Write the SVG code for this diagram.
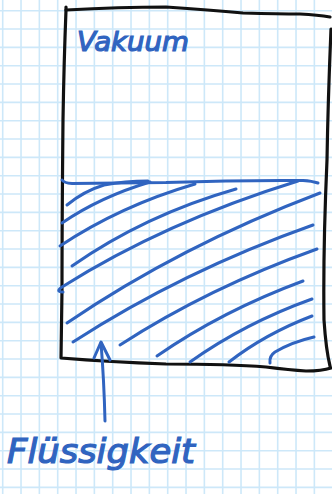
<svg xmlns="http://www.w3.org/2000/svg" width="332" height="494" viewBox="0 0 332 494">
<style>
.grid{fill:none;stroke:#cde8f9;stroke-width:1.6}
.box{fill:none;stroke:#111;stroke-width:3.2;stroke-linecap:round;stroke-linejoin:round}
.ink{fill:none;stroke:#3064c0;stroke-width:3;stroke-linecap:round;stroke-linejoin:round}
.hand{fill:#3064c0;stroke:#3064c0;stroke-width:1.2;font-family:"DejaVu Sans","Liberation Sans",sans-serif;font-style:italic}
</style>
<rect width="332" height="494" fill="#ffffff"/>
<path class="grid" d="M2.7,0V494M21.03,0V494M39.37,0V494M57.7,0V494M76.03,0V494M94.37,0V494M112.7,0V494M131.03,0V494M149.37,0V494M167.7,0V494M186.03,0V494M204.37,0V494M222.7,0V494M241.03,0V494M259.37,0V494M277.7,0V494M296.03,0V494M314.37,0V494M0,10.7H332M0,29.03H332M0,47.37H332M0,65.7H332M0,84.03H332M0,102.37H332M0,120.7H332M0,139.03H332M0,157.37H332M0,175.7H332M0,194.03H332M0,212.37H332M0,230.7H332M0,249.03H332M0,267.37H332M0,285.7H332M0,304.03H332M0,322.37H332M0,340.7H332M0,359.03H332M0,377.37H332M0,395.7H332M0,414.03H332M0,432.37H332M0,450.7H332M0,469.03H332M0,487.37H332"/>
<g id="container">
<path class="box" d="M66,7 L66,10 Q64,60 63,120 Q62,220 62,290 L61,358 Q110,362 166,364 Q230,364 266,367 Q290,370 306,371 Q322,371 331,368"/>
<path class="box" d="M66,10 Q120,7 166,7 Q210,10 243,13 Q280,14 300,14 Q318,15 330,17"/>
<path class="box" d="M331,29 Q328,100 327,160 Q323,250 324,320 Q326,350 330,366"/>
</g>
<g id="liquid">
<path class="ink" d="M62,180 Q64,183 72,183.5 L166,182.5 Q240,180 303,180.5 Q312,181 318,183"/>
<path class="ink" d="M67,205 Q84,191 104,185 Q125,181 148,181"/>
<path class="ink" d="M62,223 Q100,197 150,182"/>
<path class="ink" d="M60,246 Q120,206 195,184"/>
<path class="ink" d="M72,266 Q145,215 236,189"/>
<path class="ink" d="M63,292 Q55,292 62,287 Q165,222 298,181"/>
<path class="ink" d="M67,323 Q180,246 320,193"/>
<path class="ink" d="M73,342 Q183,271 313,225"/>
<path class="ink" d="M120,345 Q208,288 317,249"/>
<path class="ink" d="M157,356 Q222,311 303,281"/>
<path class="ink" d="M190,362 Q245,323 312,299"/>
<path class="ink" d="M229,362 Q265,334 312,316"/>
<path class="ink" d="M270,363 Q269,356 275,352 Q292,342 314,337"/>
</g>
<g id="label-vakuum">
<text class="hand" x="77" y="51" font-size="26" textLength="112" lengthAdjust="spacingAndGlyphs">Vakuum</text>
</g>
<g id="label-fluessigkeit">
<text class="hand" x="7" y="463" font-size="33" textLength="188" lengthAdjust="spacingAndGlyphs">Flüssigkeit</text>
</g>
<g id="connectors">
<path class="ink" d="M101,343 Q104,380 105,421"/>
<path class="ink" d="M94,358 L101,342 L110,360"/>
</g>
</svg>
